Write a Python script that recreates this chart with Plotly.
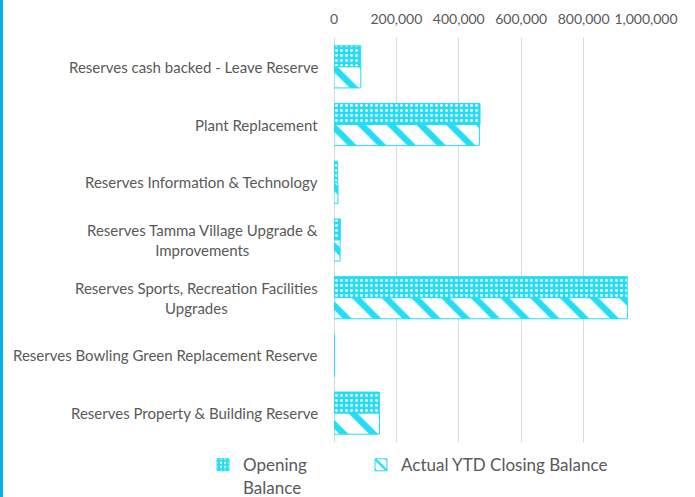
import plotly.graph_objects as go

categories = [
    "Reserves cash backed - Leave Reserve",
    "Plant Replacement",
    "Reserves Information & Technology",
    "Reserves Tamma Village Upgrade &<br>Improvements",
    "Reserves Sports, Recreation Facilities<br>Upgrades",
    "Reserves Bowling Green Replacement Reserve",
    "Reserves Property & Building Reserve",
]
opening_balance = [85500, 468000, 11800, 20300, 940000, 1500, 145300]
closing_balance = [86000, 466000, 12800, 19500, 941000, 1500, 145600]
series_names = ["Opening<br>Balance", "Actual YTD Closing Balance"]
x_ticks = [0, 200000, 400000, 600000, 800000, 1000000]

CYAN = "#22DDF5"
TEXT = "#595959"
FONT = "Lato"

W, H = 695, 497
ML, MR, MT, MB = 334, 49, 38, 55
PW, PH = W - ML - MR, H - MT - MB

fig = go.Figure()
fig.add_trace(go.Bar(
    y=categories, x=opening_balance, orientation="h", name=series_names[0],
    legend="legend",
    marker=dict(color=CYAN, line=dict(color=CYAN, width=1),
                pattern=dict(shape=".", fgcolor="white", bgcolor=CYAN,
                             size=5, solidity=0.25, fillmode="replace")),
))
fig.add_trace(go.Bar(
    y=categories, x=closing_balance, orientation="h", name=series_names[1],
    legend="legend2",
    marker=dict(color="white", line=dict(color=CYAN, width=1),
                pattern=dict(shape="\\", fgcolor=CYAN, bgcolor="white",
                             size=21, solidity=0.3, fillmode="replace")),
))

for c in categories:
    fig.add_annotation(
        x=0, xref="paper", y=c, yref="y", xanchor="right", xshift=-14,
        text=c, showarrow=False, align="center",
        font=dict(family=FONT, size=15, color=TEXT),
    )

# left accent strip
fig.add_shape(type="rect", xref="paper", yref="paper",
              x0=-ML / PW, x1=(3 - ML) / PW, y0=-MB / PH, y1=1 + MT / PH,
              fillcolor="#00B0F0", line=dict(width=0), layer="above")

legend_common = dict(orientation="h", xanchor="left", yanchor="top", y=-0.013,
                     valign="top", bgcolor="rgba(0,0,0,0)",
                     font=dict(family=FONT, size=17, color=TEXT))

fig.update_layout(
    width=W, height=H,
    margin=dict(l=ML, r=MR, t=MT, b=MB, autoexpand=False),
    paper_bgcolor="white", plot_bgcolor="white",
    barmode="group", bargap=0.27, bargroupgap=0,
    font=dict(family=FONT, color=TEXT, size=15),
    xaxis=dict(side="top", range=[0, 1000000], tickvals=x_ticks,
               tickformat=",", tickangle=0, automargin=False,
               showgrid=True, gridcolor="#D9D9D9", gridwidth=1,
               zeroline=True, zerolinecolor="#D9D9D9", zerolinewidth=1,
               showline=False, ticks="", fixedrange=True, ticklabelstandoff=10,
               tickfont=dict(family=FONT, size=14, color=TEXT)),
    yaxis=dict(autorange="reversed", showticklabels=False, showgrid=False,
               zeroline=False, showline=False, ticks="", automargin=False),
    legend=dict(x=(203 - ML) / PW, **legend_common),
    legend2=dict(x=(361 - ML) / PW, **legend_common),
    showlegend=True,
)

fig.write_html("out.html", config={"displayModeBar": False},
               post_script="document.body.style.margin='0';")
